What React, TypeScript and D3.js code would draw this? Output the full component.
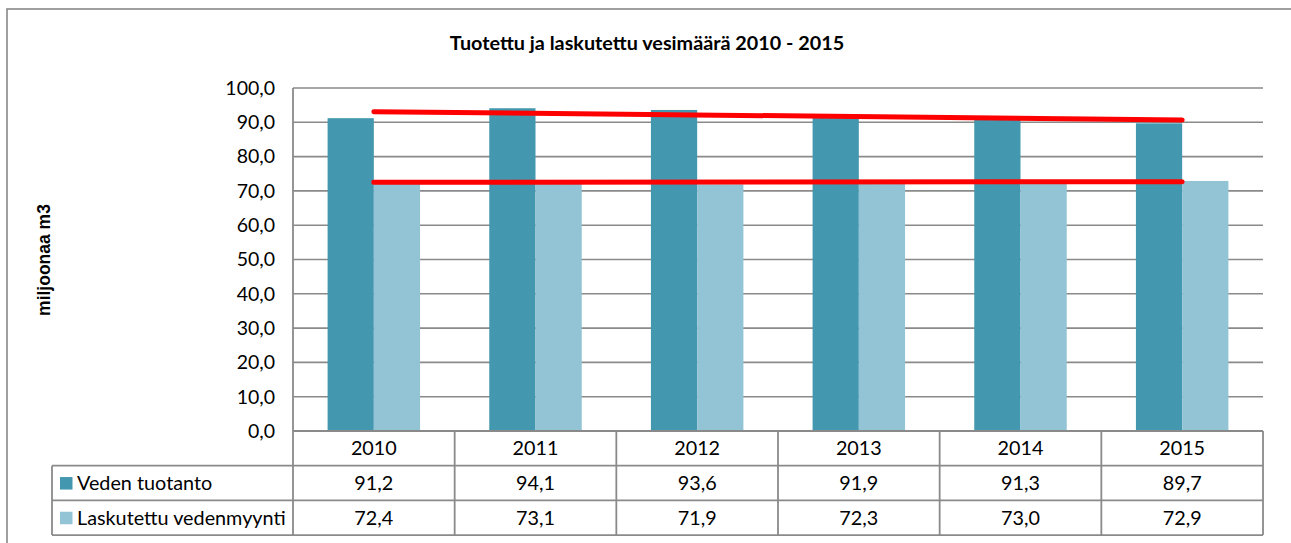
import React from 'react';
import * as d3 from 'd3';

const years = ['2010', '2011', '2012', '2013', '2014', '2015'];
const production = [91.2, 94.1, 93.6, 91.9, 91.3, 89.7];
const billed = [72.4, 73.1, 71.9, 72.3, 73.0, 72.9];
const seriesNames = ['Veden tuotanto', 'Laskutettu vedenmyynti'];
const yTicks = [0, 10, 20, 30, 40, 50, 60, 70, 80, 90, 100];
// red trend lines, values at the first and last year
const trendProduction = [93.1, 90.7];
const trendBilled = [72.5, 72.7];

const title = 'Tuotettu ja laskutettu vesimäärä 2010 - 2015';
const yLabel = 'miljoonaa m3';

const W = 1291;
const H = 543;
const plotL = 293;
const plotR = 1263;
const plotT = 88;
const plotB = 431;
const rowH = 34.7;
const tableL = 52;

const DARK = '#4398AF';
const LIGHT = '#93C4D5';
const GRID = '#8a8a8a';
const FONT = 'Lato, "Open Sans", sans-serif';

const fmt = (v: number) => d3.format('.1f')(v).replace('.', ',');

export default function App() {
  const x = d3.scaleBand<string>().domain(years).range([plotL, plotR]).paddingInner(0).paddingOuter(0);
  const inner = d3
    .scaleBand<string>()
    .domain(['p', 'b'])
    .range([0, x.bandwidth()])
    .paddingInner(0)
    .paddingOuter(0.748);
  const y = d3.scaleLinear().domain([0, 100]).range([plotB, plotT]);
  const series = [production, billed];
  const colors = [DARK, LIGHT];
  const keys = ['p', 'b'];

  const cx = (i: number) => (x(years[i]) as number) + x.bandwidth() / 2;
  const line = d3
    .line<[number, number]>()
    .x((d) => d[0])
    .y((d) => y(d[1]));
  const trendPts = (t: number[]): [number, number][] => [
    [cx(0), t[0]],
    [cx(years.length - 1), t[1]],
  ];

  const rowTops = [plotB, plotB + rowH, plotB + 2 * rowH];
  const tableB = plotB + 3 * rowH;

  return (
    <svg
      width={W}
      height={H}
      style={{ position: 'absolute', left: 0, top: 0, background: '#fff' }}
    >
      <rect x={0} y={0} width={W} height={H} fill="#fff" />
      {/* outer chart border */}
      <rect x={7} y={9} width={W + 50} height={H + 50} fill="none" stroke="#888" strokeWidth={1.6} />

      <text
        x={647}
        y={50}
        textAnchor="middle"
        fontFamily={FONT}
        fontWeight="bold"
        fontSize={19.8}
        fill="#000"
      >
        {title}
      </text>

      {/* gridlines */}
      {yTicks.map((t) => (
        <line key={t} x1={plotL} x2={plotR} y1={y(t)} y2={y(t)} stroke={GRID} strokeWidth={1.6} />
      ))}
      {/* y tick labels */}
      {yTicks.map((t) => (
        <text
          key={'l' + t}
          x={275}
          y={y(t)}
          dy="0.35em"
          textAnchor="end"
          fontFamily={FONT}
          fontSize={19.5}
          fill="#000"
        >
          {fmt(t)}
        </text>
      ))}

      {/* y axis label */}
      <text
        transform={`translate(50,260) rotate(-90)`}
        textAnchor="middle"
        fontFamily='"Liberation Sans", Arial, sans-serif'
        fontWeight="bold"
        fontSize={17.5}
        fill="#000"
      >
        {yLabel}
      </text>

      {/* bars */}
      {series.map((vals, si) =>
        vals.map((v, i) => (
          <rect
            key={si + '-' + i}
            x={(x(years[i]) as number) + (inner(keys[si]) as number)}
            y={y(v)}
            width={inner.bandwidth()}
            height={plotB - y(v)}
            fill={colors[si]}
          />
        ))
      )}

      {/* trend lines */}
      <path d={line(trendPts(trendProduction)) as string} stroke="#ff0000" strokeWidth={5} fill="none" strokeLinecap="round" />
      <path d={line(trendPts(trendBilled)) as string} stroke="#ff0000" strokeWidth={5} fill="none" strokeLinecap="round" />

      {/* data table */}
      <line x1={plotL} x2={plotL} y1={plotT} y2={tableB} stroke={GRID} strokeWidth={1.8} />
      {years.map((yr) => (
        <line
          key={'v' + yr}
          x1={(x(yr) as number) + x.bandwidth()}
          x2={(x(yr) as number) + x.bandwidth()}
          y1={plotB}
          y2={tableB}
          stroke={GRID}
          strokeWidth={1.8}
        />
      ))}
      {[plotB + rowH, plotB + 2 * rowH, tableB].map((yy, k) => (
        <line key={'h' + k} x1={tableL} x2={plotR} y1={yy} y2={yy} stroke={GRID} strokeWidth={1.8} />
      ))}
      <line x1={tableL} x2={tableL} y1={plotB + rowH} y2={tableB} stroke={GRID} strokeWidth={1.8} />
      <line x1={plotL} x2={plotR} y1={plotB} y2={plotB} stroke={GRID} strokeWidth={1.8} />

      {years.map((yr) => (
        <text
          key={'yr' + yr}
          x={(x(yr) as number) + x.bandwidth() / 2}
          y={rowTops[0] + rowH / 2}
          dy="0.35em"
          textAnchor="middle"
          fontFamily={FONT}
          fontSize={19.8}
          fill="#000"
        >
          {yr}
        </text>
      ))}
      {series.map((vals, si) => (
        <g key={'row' + si}>
          <rect x={60} y={rowTops[si + 1] + rowH / 2 - 6} width={12.5} height={12.5} fill={colors[si]} />
          <text
            x={77}
            y={rowTops[si + 1] + rowH / 2}
            dy="0.35em"
            fontFamily={FONT}
            fontSize={19.8}
            fill="#000"
          >
            {seriesNames[si]}
          </text>
          {vals.map((v, i) => (
            <text
              key={i}
              x={cx(i)}
              y={rowTops[si + 1] + rowH / 2}
              dy="0.35em"
              textAnchor="middle"
              fontFamily={FONT}
              fontSize={19.8}
              fill="#000"
            >
              {fmt(v)}
            </text>
          ))}
        </g>
      ))}
    </svg>
  );
}
